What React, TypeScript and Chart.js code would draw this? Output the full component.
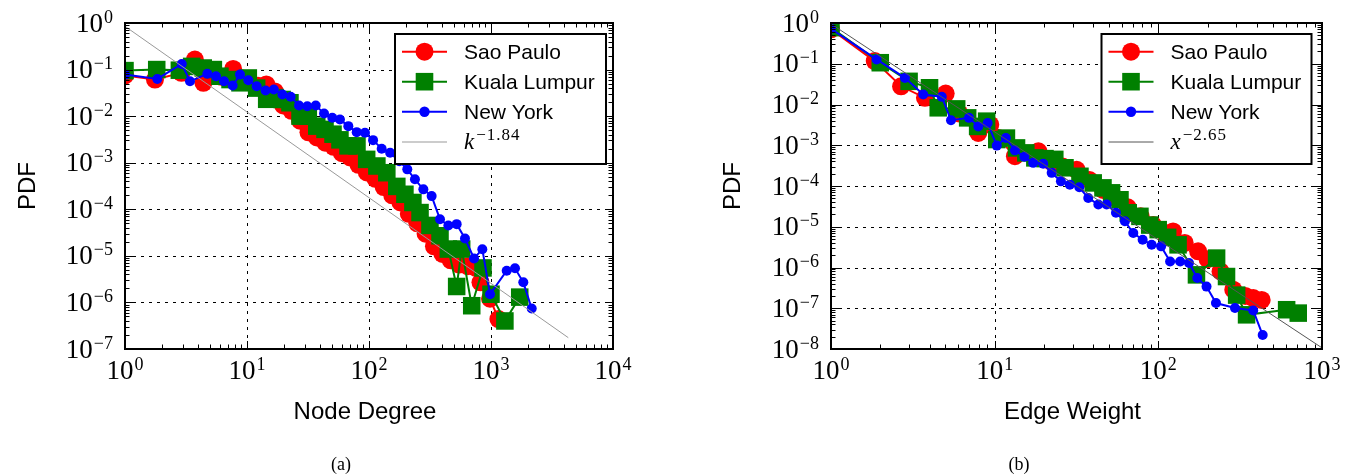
import React, { useEffect, useRef } from 'react';
import { Chart, registerables } from 'chart.js';

Chart.register(...registerables);

// ---------- (a) Node Degree ----------
const SP_A_X = [1, 1.76, 2.9, 3.74, 4.39, 5.2, 6.2, 7.7, 9, 10.5, 12.3, 14.4, 16.9, 19.8, 23.2, 27.2, 31.9, 37.4, 43.8, 51.3, 60, 70, 82, 96, 113, 132, 155, 181, 212, 249, 291, 341, 400, 468, 549, 643, 753, 820, 982, 1150];
const SP_A_Y = [0.075, 0.061, 0.085, 0.164, 0.052, 0.085, 0.07, 0.103, 0.065, 0.055, 0.045, 0.048, 0.034, 0.017, 0.013, 0.008, 0.0045, 0.0035, 0.0027, 0.0022, 0.0016, 0.0013, 0.0009, 0.00062, 0.00045, 0.0003, 0.0002, 0.00014, 0.00008, 0.00005, 0.00003, 0.000016, 0.000011, 0.000008, 0.0000065, 0.000006, 0.0000055, 0.0000027, 0.0000012, 0.00000044];

const KL_A_X = [1, 1.82, 2.79, 3.52, 4.38, 5.3, 6.0, 7.26, 8.76, 10.25, 12.0, 14.5, 17.0, 19.4, 22.5, 27.2, 31.8, 37.3, 43.6, 50.7, 57.8, 67.3, 79.7, 95.7, 116, 140, 169, 197, 229, 262, 316, 382, 447, 523, 575, 695, 860, 1000, 1300, 1720];
const KL_A_Y = [0.095, 0.1, 0.097, 0.117, 0.108, 0.1, 0.072, 0.061, 0.052, 0.066, 0.04, 0.023, 0.025, 0.0228, 0.0194, 0.01, 0.01, 0.0061, 0.0052, 0.0041, 0.0031, 0.0023, 0.0023, 0.00118, 0.00085, 0.00061, 0.00031, 0.00021, 0.00014, 0.000085, 0.000045, 0.000027, 0.000014, 0.0000022, 0.000014, 0.00000085, 0.0000055, 0.0000015, 0.0000004, 0.0000013];

const NY_A_X = [1, 1.84, 2.92, 3.41, 4.73, 5.57, 6.48, 7.63, 8.76, 10.25, 12.0, 14.2, 16.6, 19.5, 22.8, 26.7, 31.2, 36.6, 42.8, 50.0, 57.8, 67.7, 79.3, 92.7, 108, 127, 149, 177, 206, 238, 279, 326, 382, 447, 523, 612, 726, 849, 982, 1345, 1573, 1840, 2156];
const NY_A_Y = [0.078, 0.063, 0.132, 0.056, 0.081, 0.0717, 0.056, 0.0454, 0.078, 0.059, 0.0438, 0.0354, 0.0372, 0.0291, 0.026, 0.0169, 0.0163, 0.0169, 0.0114, 0.0092, 0.0085, 0.0061, 0.00453, 0.0044, 0.00305, 0.002, 0.00164, 0.00108, 0.00072, 0.00044, 0.000268, 0.000192, 0.000061, 0.000045, 0.000048, 0.0000235, 0.0000088, 0.0000139, 0.0000015, 0.0000048, 0.0000054, 0.0000027, 0.00000074];

const FIT_A_X = [1, 4300];
const FIT_A_Y = [0.85, 1.75e-7];

// ---------- (b) Edge Weight ----------
const SP_B_X = [1, 1.85, 2.68, 3.75, 5.02, 6.1, 7.94, 9.4, 10.5, 13.3, 18.5, 22, 26, 31.7, 38, 46, 55, 65, 78, 93, 110, 123, 145, 175, 200, 240, 287, 340, 380, 428];
const SP_B_Y = [0.7, 0.116, 0.028, 0.0146, 0.0186, 0.006, 0.002, 0.0032, 0.0015, 0.00054, 0.00071, 0.0004, 0.0003, 0.00025, 0.00014, 0.00008, 0.00005, 0.00003, 0.000018, 0.000011, 0.000007, 0.0000077, 0.000004, 0.0000025, 0.0000016, 0.0000008, 0.000000285, 0.0000002, 0.000000178, 0.00000016];

const KL_B_X = [1, 2, 3, 4, 4.52, 5.86, 6.84, 7.87, 8.93, 10.3, 11.8, 13.6, 15.5, 17.6, 20.3, 23.3, 26.9, 33.2, 40, 45.9, 51.8, 58.3, 65.5, 77.2, 88.6, 99.8, 114, 132, 171, 227, 261, 301, 346, 608, 716];
const KL_B_Y = [0.77, 0.106, 0.037, 0.0257, 0.0083, 0.0078, 0.0047, 0.0029, 0.0039, 0.00138, 0.0015, 0.00086, 0.00065, 0.00049, 0.00047, 0.00045, 0.00028, 0.000173, 0.000119, 0.00009, 0.000068, 0.000046, 0.000022, 0.000018, 0.000011, 0.0000085, 0.0000055, 0.0000036, 0.00000066, 0.0000017, 0.0000006, 0.00000021, 0.000000069, 0.000000092, 0.000000076];

const NY_B_X = [1, 1.9, 2.83, 3.66, 4.75, 5.41, 6.97, 7.94, 9.06, 10.3, 11.7, 13.3, 15.2, 17.2, 19.8, 22.3, 25.4, 28.8, 32.9, 37.3, 43.0, 48.3, 55.1, 62.5, 70.3, 80.2, 91.0, 104, 118, 136, 154, 173, 197, 225, 294, 380, 434];
const NY_B_Y = [0.72, 0.128, 0.045, 0.0176, 0.0155, 0.0041, 0.0047, 0.0029, 0.0035, 0.00098, 0.0015, 0.00075, 0.00052, 0.00037, 0.00035, 0.00021, 0.00013, 0.000108, 0.000093, 0.000051, 0.000035, 0.000035, 0.000022, 0.0000136, 0.000007, 0.0000048, 0.0000036, 0.0000033, 0.00000141, 0.00000141, 0.00000129, 0.00000055, 0.00000034, 0.000000134, 0.000000101, 0.000000088, 0.000000022];

const FIT_B_X = [1, 1000];
const FIT_B_Y = [0.95, 1.066e-8];

// ---------- axes / labels ----------
const X_EXP_A = [0, 1, 2, 3, 4];
const Y_EXP_A = [0, -1, -2, -3, -4, -5, -6, -7];
const X_EXP_B = [0, 1, 2, 3];
const Y_EXP_B = [0, -1, -2, -3, -4, -5, -6, -7, -8];

const SERIES_NAMES = ['Sao Paulo', 'Kuala Lumpur', 'New York'];
const Y_TITLE = 'PDF';
const X_TITLE_A = 'Node Degree';
const X_TITLE_B = 'Edge Weight';
const FIT_VAR_A = 'k';
const FIT_EXP_A = '\u22121.84';
const FIT_VAR_B = 'x';
const FIT_EXP_B = '\u22122.65';

const H = 476;
const SANS = '"Liberation Sans", Arial, Helvetica, sans-serif';
const SERIF = '"Liberation Serif", "Times New Roman", serif';
const RED = '#ff0000';
const GREEN = '#008000';
const BLUE = '#0000ff';

const pts = (xs: number[], ys: number[]) => xs.map((x, i) => ({ x, y: ys[i] }));
const expText = (e: number) => (e < 0 ? '\u2212' + String(-e) : String(e));

type Cfg = {
  id: string;
  left: number;
  w: number;
  area: { l: number; r: number; t: number; b: number };
  xExp: number[];
  yExp: number[];
  xTitle: string;
  yTitleX: number;
  caption: string;
  captionX: number;
  legendL: number;
  legendR: number;
  fitColor: string;
  fitVar: string;
  fitExp: string;
  sp: { x: number; y: number }[];
  kl: { x: number; y: number }[];
  ny: { x: number; y: number }[];
  fit: { x: number; y: number }[];
};

function drawMarker(ctx: CanvasRenderingContext2D, kind: string, x: number, y: number, color: string) {
  ctx.fillStyle = color;
  ctx.beginPath();
  if (kind === 'bigcircle') ctx.arc(x, y, 9, 0, Math.PI * 2);
  else if (kind === 'square') ctx.rect(x - 8.8, y - 8.8, 17.6, 17.6);
  else ctx.arc(x, y, 5.2, 0, Math.PI * 2);
  ctx.fill();
}

function makePlugin(cfg: Cfg) {
  return {
    id: 'mplstyle_' + cfg.id,
    beforeDatasetsDraw(chart: any) {
      const { ctx, chartArea: a } = chart;
      const xs = chart.scales.x;
      const ys = chart.scales.y;
      ctx.save();
      ctx.strokeStyle = '#000';
      ctx.lineWidth = 1;
      ctx.setLineDash([3, 5]);
      cfg.xExp.slice(1, -1).forEach((e) => {
        const px = Math.round(xs.getPixelForValue(Math.pow(10, e))) + 0.5;
        ctx.beginPath();
        ctx.moveTo(px, a.top);
        ctx.lineTo(px, a.bottom);
        ctx.stroke();
      });
      cfg.yExp.slice(1, -1).forEach((e) => {
        const py = Math.round(ys.getPixelForValue(Math.pow(10, e))) + 0.5;
        ctx.beginPath();
        ctx.moveTo(a.left, py);
        ctx.lineTo(a.right, py);
        ctx.stroke();
      });
      ctx.restore();
    },
    afterDatasetsDraw(chart: any) {
      const { ctx, chartArea: a } = chart;
      const xs = chart.scales.x;
      const ys = chart.scales.y;
      ctx.save();
      ctx.setLineDash([]);
      ctx.strokeStyle = '#000';
      // ticks (inside, all four sides)
      ctx.lineWidth = 1;
      const xe = cfg.xExp;
      for (let d = xe[0]; d <= xe[xe.length - 1]; d++) {
        for (let m = 1; m <= 9; m++) {
          if (d === xe[xe.length - 1] && m > 1) break;
          const px = Math.round(xs.getPixelForValue(m * Math.pow(10, d))) + 0.5;
          const len = m === 1 ? 8 : 4.5;
          ctx.beginPath();
          ctx.moveTo(px, a.bottom);
          ctx.lineTo(px, a.bottom - len);
          ctx.moveTo(px, a.top);
          ctx.lineTo(px, a.top + len);
          ctx.stroke();
        }
      }
      const ye = cfg.yExp;
      const yLo = ye[ye.length - 1];
      for (let d = yLo; d <= 0; d++) {
        for (let m = 1; m <= 9; m++) {
          if (d === 0 && m > 1) break;
          const py = Math.round(ys.getPixelForValue(m * Math.pow(10, d))) + 0.5;
          const len = m === 1 ? 8 : 4.5;
          ctx.beginPath();
          ctx.moveTo(a.left, py);
          ctx.lineTo(a.left + len, py);
          ctx.moveTo(a.right, py);
          ctx.lineTo(a.right - len, py);
          ctx.stroke();
        }
      }
      // frame
      ctx.lineWidth = 2;
      ctx.strokeRect(a.left, a.top, a.right - a.left, a.bottom - a.top);

      // legend
      const lt = 34;
      const lb = 164;
      const ll = cfg.legendL;
      const lr = cfg.legendR;
      ctx.fillStyle = '#fff';
      ctx.fillRect(ll, lt, lr - ll, lb - lt);
      ctx.lineWidth = 2;
      ctx.strokeStyle = '#000';
      ctx.strokeRect(ll, lt, lr - ll, lb - lt);
      const rows = [51.7, 81.7, 111.7, 142];
      const lx1 = ll + 7;
      const lx2 = ll + 52;
      const tx = ll + 69;
      const entries = [
        { color: RED, kind: 'bigcircle', label: SERIES_NAMES[0] },
        { color: GREEN, kind: 'square', label: SERIES_NAMES[1] },
        { color: BLUE, kind: 'dot', label: SERIES_NAMES[2] },
      ];
      entries.forEach((en, i) => {
        const yy = rows[i];
        ctx.strokeStyle = en.color;
        ctx.lineWidth = 2;
        ctx.beginPath();
        ctx.moveTo(lx1, yy);
        ctx.lineTo(lx2, yy);
        ctx.stroke();
        drawMarker(ctx, en.kind, (lx1 + lx2) / 2, yy, en.color);
        ctx.fillStyle = '#000';
        ctx.font = `21px ${SANS}`;
        ctx.textAlign = 'left';
        ctx.textBaseline = 'alphabetic';
        ctx.fillText(en.label, tx, yy + 7.5);
      });
      // fit entry
      const fy = rows[3];
      ctx.strokeStyle = cfg.fitColor;
      ctx.lineWidth = 1;
      ctx.beginPath();
      ctx.moveTo(lx1, fy);
      ctx.lineTo(lx2, fy);
      ctx.stroke();
      ctx.fillStyle = '#000';
      ctx.font = `italic 23px ${SERIF}`;
      ctx.textAlign = 'left';
      ctx.fillText(cfg.fitVar, tx, fy + 6.5);
      const vw = ctx.measureText(cfg.fitVar).width;
      ctx.font = `17px ${SERIF}`;
      (ctx as any).letterSpacing = '1px';
      ctx.fillText(cfg.fitExp, tx + vw + 2, fy - 2);
      (ctx as any).letterSpacing = '0px';

      // tick labels
      ctx.fillStyle = '#000';
      ctx.textAlign = 'left';
      ctx.textBaseline = 'alphabetic';
      cfg.yExp.forEach((e) => {
        const py = ys.getPixelForValue(Math.pow(10, e));
        ctx.font = `27px ${SERIF}`;
        const wb = ctx.measureText('10').width;
        ctx.font = `18px ${SERIF}`;
        const et = expText(e);
        const we = ctx.measureText(et).width;
        const xEnd = a.left - 12;
        const xStart = xEnd - we - wb - 1;
        ctx.font = `27px ${SERIF}`;
        ctx.fillText('10', xStart, py + 8.5);
        ctx.font = `18px ${SERIF}`;
        ctx.fillText(et, xStart + wb + 1, py - 0.5);
      });
      cfg.xExp.forEach((e) => {
        const px = xs.getPixelForValue(Math.pow(10, e));
        ctx.font = `27px ${SERIF}`;
        const wb = ctx.measureText('10').width;
        ctx.font = `18px ${SERIF}`;
        const et = expText(e);
        const we = ctx.measureText(et).width;
        const xStart = px - (wb + we + 1) / 2;
        ctx.font = `27px ${SERIF}`;
        ctx.fillText('10', xStart, 379);
        ctx.font = `18px ${SERIF}`;
        ctx.fillText(et, xStart + wb + 1, 370);
      });

      // axis titles
      ctx.font = `24px ${SANS}`;
      ctx.textAlign = 'center';
      ctx.textBaseline = 'middle';
      ctx.fillText(cfg.xTitle, (a.left + a.right) / 2 - 4, 412);
      ctx.save();
      ctx.translate(cfg.yTitleX, (a.top + a.bottom) / 2);
      ctx.rotate(-Math.PI / 2);
      ctx.fillText(Y_TITLE, 0, 0);
      ctx.restore();

      // caption
      ctx.font = `18px ${SERIF}`;
      ctx.textAlign = 'center';
      ctx.textBaseline = 'middle';
      ctx.fillText(cfg.caption, cfg.captionX, 465);
      ctx.restore();
    },
  };
}

function Plot({ cfg }: { cfg: Cfg }) {
  const ref = useRef<HTMLCanvasElement>(null);
  useEffect(() => {
    const canvas = ref.current;
    if (!canvas) return;
    const a = cfg.area;
    const chart = new Chart(canvas, {
      type: 'line',
      data: {
        datasets: [
          {
            label: 'fit',
            data: cfg.fit,
            borderColor: cfg.fitColor,
            borderWidth: 1,
            pointRadius: 0,
            tension: 0,
            order: 0,
          },
          {
            label: SERIES_NAMES[2],
            data: cfg.ny,
            borderColor: BLUE,
            backgroundColor: BLUE,
            borderWidth: 2,
            pointRadius: 5,
            pointBorderWidth: 0,
            pointBackgroundColor: BLUE,
            pointStyle: 'circle',
            tension: 0,
            order: 1,
          },
          {
            label: SERIES_NAMES[1],
            data: cfg.kl,
            borderColor: GREEN,
            backgroundColor: GREEN,
            borderWidth: 2,
            pointRadius: 12.4,
            pointBorderWidth: 0,
            pointBackgroundColor: GREEN,
            pointStyle: 'rect',
            tension: 0,
            order: 2,
          },
          {
            label: SERIES_NAMES[0],
            data: cfg.sp,
            borderColor: RED,
            backgroundColor: RED,
            borderWidth: 2,
            pointRadius: 9,
            pointBorderWidth: 0,
            pointBackgroundColor: RED,
            pointStyle: 'circle',
            tension: 0,
            order: 3,
          },
        ] as any,
      },
      options: {
        animation: false,
        responsive: false,
        maintainAspectRatio: false,
        events: [],
        layout: { padding: { left: 0, right: cfg.w - a.r, top: a.t, bottom: 0 } },
        plugins: {
          legend: { display: false },
          tooltip: { enabled: false },
          title: { display: false },
        },
        scales: {
          x: {
            type: 'logarithmic',
            position: 'bottom',
            min: Math.pow(10, cfg.xExp[0]),
            max: Math.pow(10, cfg.xExp[cfg.xExp.length - 1]),
            ticks: { display: false },
            grid: { display: false },
            border: { display: false },
            afterFit: (s: any) => {
              s.height = H - a.b;
            },
          },
          y: {
            type: 'logarithmic',
            position: 'left',
            min: Math.pow(10, cfg.yExp[cfg.yExp.length - 1]),
            max: Math.pow(10, cfg.yExp[0]),
            ticks: { display: false },
            grid: { display: false },
            border: { display: false },
            afterFit: (s: any) => {
              s.width = a.l;
            },
          },
        },
      } as any,
      plugins: [makePlugin(cfg)],
    });
    return () => chart.destroy();
  }, [cfg]);
  return (
    <canvas
      ref={ref}
      width={cfg.w}
      height={H}
      style={{ position: 'absolute', left: cfg.left, top: 0, width: cfg.w, height: H, display: 'block' }}
    />
  );
}

const CFG_A: Cfg = {
  id: 'a',
  left: 0,
  w: 676,
  area: { l: 125, r: 613, t: 23, b: 349 },
  xExp: X_EXP_A,
  yExp: Y_EXP_A,
  xTitle: X_TITLE_A,
  yTitleX: 28,
  caption: '(a)',
  captionX: 341,
  legendL: 395,
  legendR: 606,
  fitColor: '#999999',
  fitVar: FIT_VAR_A,
  fitExp: FIT_EXP_A,
  sp: pts(SP_A_X, SP_A_Y),
  kl: pts(KL_A_X, KL_A_Y),
  ny: pts(NY_A_X, NY_A_Y),
  fit: pts(FIT_A_X, FIT_A_Y),
};

const CFG_B: Cfg = {
  id: 'b',
  left: 676,
  w: 675,
  area: { l: 155, r: 646, t: 23, b: 349 },
  xExp: X_EXP_B,
  yExp: Y_EXP_B,
  xTitle: X_TITLE_B,
  yTitleX: 57,
  caption: '(b)',
  captionX: 343,
  legendL: 425.5,
  legendR: 635.5,
  fitColor: '#555555',
  fitVar: FIT_VAR_B,
  fitExp: FIT_EXP_B,
  sp: pts(SP_B_X, SP_B_Y),
  kl: pts(KL_B_X, KL_B_Y),
  ny: pts(NY_B_X, NY_B_Y),
  fit: pts(FIT_B_X, FIT_B_Y),
};

export default function App() {
  return (
    <div style={{ position: 'absolute', left: 0, top: 0, width: 1351, height: H, background: '#fff', overflow: 'hidden' }}>
      <Plot cfg={CFG_A} />
      <Plot cfg={CFG_B} />
    </div>
  );
}
